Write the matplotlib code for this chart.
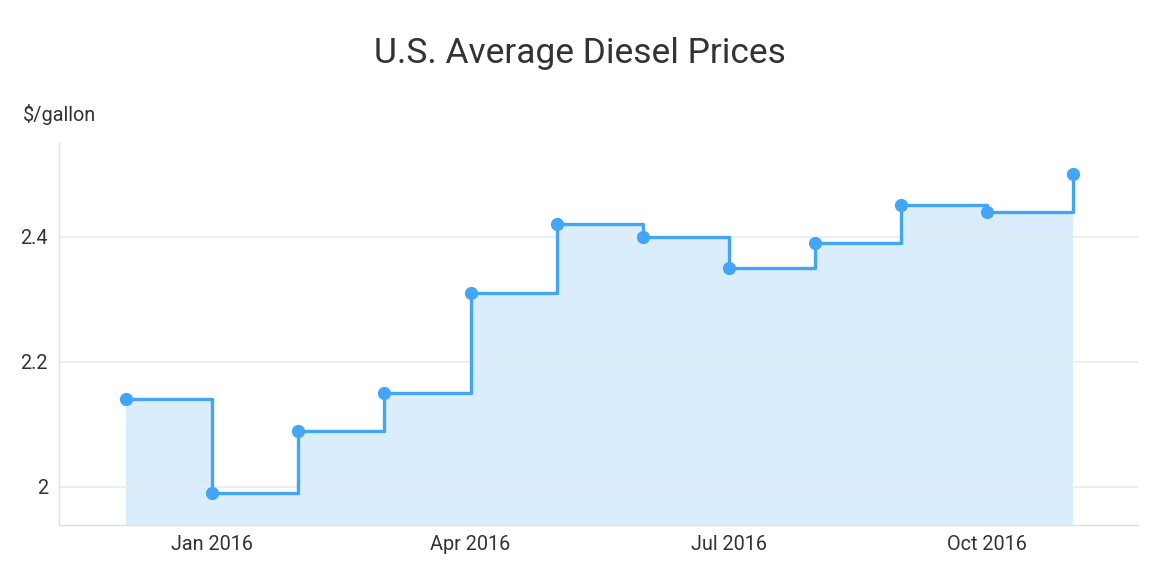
import matplotlib
matplotlib.use("Agg")
import matplotlib.pyplot as plt
import numpy as np

plt.rcParams['font.family'] = ['Roboto', 'DejaVu Sans']

# Monthly categories (evenly spaced on the axis), Dec 2015 .. Nov 2016
months = ["Dec 2015", "Jan 2016", "Feb 2016", "Mar 2016", "Apr 2016", "May 2016",
          "Jun 2016", "Jul 2016", "Aug 2016", "Sep 2016", "Oct 2016", "Nov 2016"]
prices = [2.14, 1.99, 2.09, 2.15, 2.31, 2.42, 2.40, 2.35, 2.39, 2.45, 2.44, 2.50]
tick_labels = ["Jan 2016", "Apr 2016", "Jul 2016", "Oct 2016"]
y_ticks = [2.0, 2.2, 2.4]
y_tick_labels = ["2", "2.2", "2.4"]

x = np.arange(len(months))
tick_pos = [months.index(t) for t in tick_labels]
line_color = "#42a5f5"
text_color = "#333333"

fig = plt.figure(figsize=(11.6, 5.76), dpi=100)
ax = fig.add_axes([0.0509, 0.0885, 0.9301, 0.6635])

ymin, ymax = 1.939, 2.550
ax.fill_between(x, prices, ymin, step="post", color=line_color, alpha=0.2,
                linewidth=0, zorder=1)
ax.step(x, prices, where="post", color=line_color, linewidth=2.4, zorder=2)
ax.plot(x, prices, "o", color=line_color, markersize=8.5, zorder=3)

ax.set_ylim(ymin, ymax)
ax.set_xlim(-0.778, 11.75)
ax.set_yticks(y_ticks)
ax.set_yticklabels(y_tick_labels)
ax.set_xticks(tick_pos)
ax.set_xticklabels(tick_labels)

ax.set_axisbelow('line')
ax.grid(axis="y", color="#ebebeb", linewidth=1.2)
ax.grid(axis="x", visible=False)
for s in ["top", "right"]:
    ax.spines[s].set_visible(False)
for s in ["left", "bottom"]:
    ax.spines[s].set_color("#e0e0e0")
    ax.spines[s].set_linewidth(1.0)
ax.tick_params(axis="both", length=0, labelsize=14.3, labelcolor=text_color)
ax.tick_params(axis="y", pad=8)
ax.tick_params(axis="x", pad=7)

fig.text(0.5, 1 - 63.3 / 576, "U.S. Average Diesel Prices", ha="center", va="baseline",
         fontsize=25.5, color=text_color)
fig.text(23 / 1160, 1 - 121 / 576, "$/gallon", ha="left", va="baseline",
         fontsize=14.3, color=text_color)

fig.savefig("out.png", dpi=100)
